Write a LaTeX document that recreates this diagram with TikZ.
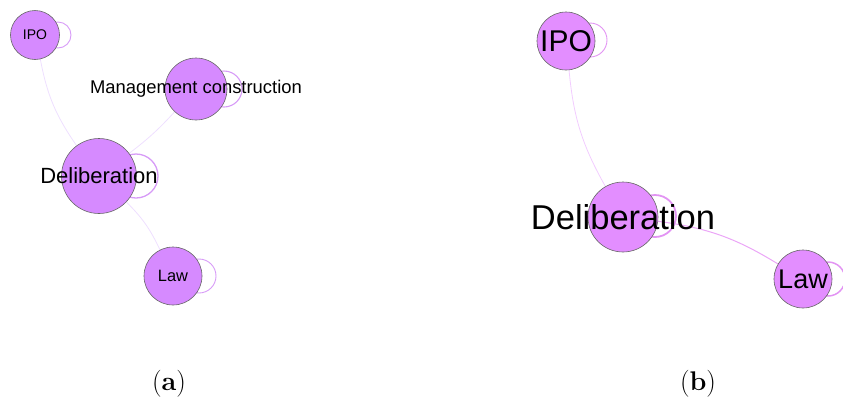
\documentclass[tikz,border=0pt]{standalone}
\usepackage{fontspec}
\newfontfamily\labfont{Liberation Sans}
\pgfdeclarelayer{bg}
\pgfsetlayers{bg,main}
\definecolor{nodeA}{HTML}{D68AFF}
\definecolor{nodeB}{HTML}{E38EFF}
\definecolor{loopA}{HTML}{D79BF7}
\definecolor{loopB}{HTML}{E294F3}
\definecolor{edgeA}{HTML}{EEDFFF}
\definecolor{edgeB}{HTML}{F2CCFF}
\definecolor{edgeC}{HTML}{EBA6F7}
\tikzset{
  vertex/.style={circle, draw=black!60, fill=nodeA, line width=0.6pt, inner sep=0pt},
  vertexB/.style={vertex, fill=nodeB},
  nlabel/.style={text=black, inner sep=0pt},
  selfloop/.style={draw=loopA, line width=0.9pt},
  selfloopB/.style={draw=loopB, line width=0.9pt},
  link/.style={draw=edgeA, line width=0.8pt},
}
\newcommand{\fs}[1]{\labfont\fontsize{#1}{#1}\selectfont}
\begin{document}
\begin{tikzpicture}[x=1pt,y=-1pt]
\useasboundingbox (0,0) rectangle (843,405);

% ---- panel (a) ----
\node[vertex, minimum size=49, label={[nlabel,font=\fs{14}]center:IPO}] (ipoA) at (35,35) {};
\node[vertex, minimum size=62, label={[nlabel,font=\fs{18.4}]center:Management construction}] (mgmA) at (196,89) {};
\node[vertex, minimum size=75, label={[nlabel,font=\fs{22}]center:Deliberation}] (delA) at (99,176) {};
\node[vertex, minimum size=58, label={[nlabel,font=\fs{16.4}]center:Law}] (lawA) at (173,276) {};

\begin{pgfonlayer}{bg}
  \draw[link] (ipoA) to[bend right=12] (delA);
  \draw[link] (mgmA) to[bend left=5] (delA);
  \draw[link] (delA) to[bend left=10] (lawA);
  \draw[selfloop] (58,35) circle (13);
  \draw[selfloop, line width=1.1pt] (224,89) circle (18);
  \draw[selfloop, line width=1.3pt] (136,176) circle (22);
  \draw[selfloop] (199,276) circle (17);
\end{pgfonlayer}

% ---- panel (b) ----
\node[vertexB, minimum size=58, label={[nlabel,font=\fs{30}]center:IPO}] (ipoB) at (566,41) {};
\node[vertexB, minimum size=70, label={[nlabel,font=\fs{34.5}]center:Deliberation}] (delB) at (623,217) {};
\node[vertexB, minimum size=58, label={[nlabel,font=\fs{27}]center:Law}] (lawB) at (803,279) {};

\begin{pgfonlayer}{bg}
  \draw[link, draw=edgeB] (ipoB) to[bend right=12] (delB);
  \draw[link, draw=edgeC, line width=1pt] (delB) to[bend left=12] (lawB);
  \draw[selfloopB] (590,40) circle (17);
  \draw[selfloopB, line width=1.8pt] (655,216) circle (21);
  \draw[selfloopB, line width=1.5pt] (828,279) circle (17);
\end{pgfonlayer}

% ---- captions ----
\node[font=\fontsize{27}{27}\selectfont] (capA) at (169,384) {(\textbf{a})};
\node[font=\fontsize{27}{27}\selectfont] (capB) at (698,384) {(\textbf{b})};
\end{tikzpicture}
\end{document}
